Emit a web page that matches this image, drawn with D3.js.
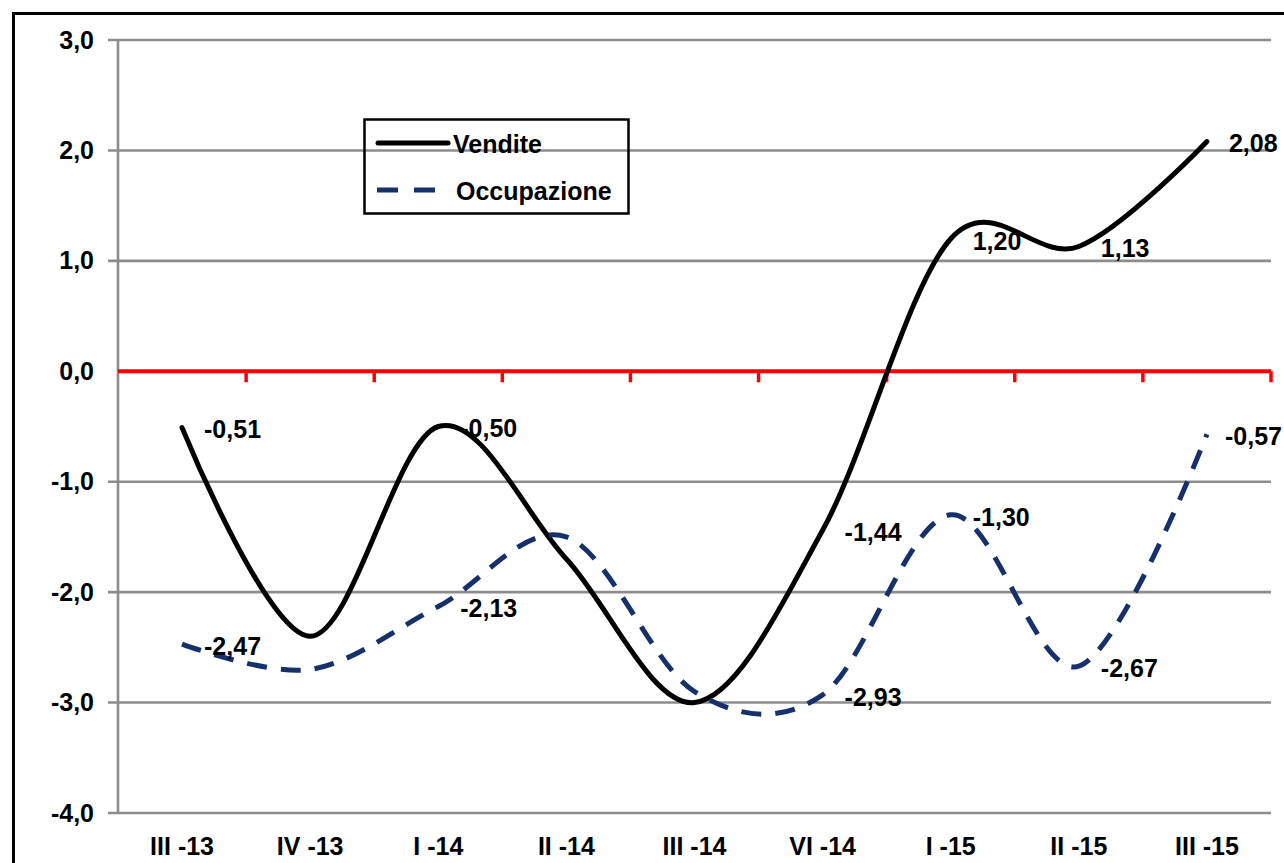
<!DOCTYPE html>
<html>
<head>
<meta charset="utf-8">
<script src="https://cdn.jsdelivr.net/npm/d3@7"></script>
<style>
  html, body { margin: 0; padding: 0; background: #fff; overflow: hidden; }
  svg { display: block; }
  text { font-family: "Liberation Sans", Arial, sans-serif; font-weight: bold; fill: #000; }
</style>
</head>
<body>
<svg id="chart" width="1284" height="863"></svg>
<script>
// ---- data ----
const categories = ["III -13", "IV -13", "I -14", "II -14", "III -14", "VI -14", "I -15", "II -15", "III -15"];
const vendite = [-0.51, -2.40, -0.50, -1.70, -3.00, -1.44, 1.20, 1.13, 2.08];
const occupazione = [-2.47, -2.70, -2.13, -1.50, -2.90, -2.93, -1.30, -2.67, -0.57];
const labelledIdx = [0, 2, 5, 6, 7, 8];
const yTicks = [3, 2, 1, 0, -1, -2, -3, -4];
const seriesNames = ["Vendite", "Occupazione"];

// ---- layout ----
const W = 1284;
const svg = d3.select("#chart");
const mLeft = 118, mRight = 1271, mTop = 40, mBottom = 813;
const x = d3.scaleBand().domain(categories).range([mLeft, mRight]).padding(0);
const y = d3.scaleLinear().domain([-4, 3]).range([mBottom, mTop]);
const fmt = v => d3.format(".2f")(v).replace(".", ",").replace("\u2212", "-");
const fmtTick = v => d3.format(".1f")(v).replace(".", ",").replace("\u2212", "-");

// outer frame
svg.append("rect").attr("x", 13.5).attr("y", 13.5).attr("width", 1400).attr("height", 1000)
  .attr("fill", "none").attr("stroke", "#000").attr("stroke-width", 3);

// y axis labels
const yAxis = d3.axisLeft(y).tickValues(yTicks).tickFormat(fmtTick).tickSize(0).tickPadding(24);
const gy = svg.append("g").attr("transform", `translate(${mLeft},0)`).call(yAxis);
gy.select(".domain").remove();
gy.selectAll(".tick text").attr("font-size", 25).attr("font-family", "Liberation Sans, Arial, sans-serif")
  .attr("font-weight", "bold").attr("fill", "#000");

// gridlines
svg.append("g").selectAll("line").data(yTicks.filter(d => d !== 0)).join("line")
  .attr("x1", mLeft - 10).attr("x2", mRight)
  .attr("y1", d => y(d)).attr("y2", d => y(d))
  .attr("stroke", "#8c8c8c").attr("stroke-width", 2.6);

// vertical axis line
svg.append("line").attr("x1", mLeft).attr("x2", mLeft).attr("y1", y(3)).attr("y2", y(-4))
  .attr("stroke", "#8c8c8c").attr("stroke-width", 2.6);

// zero line (red) with ticks
svg.append("line").attr("x1", mLeft).attr("x2", mRight).attr("y1", y(0)).attr("y2", y(0))
  .attr("stroke", "#ff0000").attr("stroke-width", 4);
const boundaries = categories.map(c => x(c) + x.bandwidth());
svg.append("g").selectAll("line").data(boundaries).join("line")
  .attr("x1", d => d).attr("x2", d => d)
  .attr("y1", y(0)).attr("y2", y(0) + 11)
  .attr("stroke", "#ff0000").attr("stroke-width", 3.5);

// category labels at bottom
const gxb = svg.append("g").attr("transform", `translate(0,${mBottom})`)
  .call(d3.axisBottom(x).tickSize(0).tickPadding(24));
gxb.select(".domain").remove();
gxb.selectAll(".tick text").attr("font-size", 25).attr("font-family", "Liberation Sans, Arial, sans-serif")
  .attr("font-weight", "bold").attr("fill", "#000");

// lines
const cx = i => x(categories[i]) + x.bandwidth() / 2;
const line = d3.line().x((d, i) => cx(i)).y(d => y(d)).curve(d3.curveCardinal.tension(0));

svg.append("path").datum(vendite).attr("d", line)
  .attr("fill", "none").attr("stroke", "#000").attr("stroke-width", 5).attr("stroke-linecap", "round");
svg.append("path").datum(occupazione).attr("d", line)
  .attr("fill", "none").attr("stroke", "#16306c").attr("stroke-width", 5)
  .attr("stroke-dasharray", "20,14");

// data labels (kept inside the picture)
[vendite, occupazione].forEach(series => {
  svg.append("g").selectAll("text").data(labelledIdx).join("text")
    .attr("y", i => y(series[i]) + 2)
    .attr("dy", "0.35em")
    .attr("font-size", 25)
    .text(i => fmt(series[i]))
    .attr("x", function(i) {
      const w = this.getComputedTextLength();
      return Math.min(cx(i) + 22, W - w - 2);
    });
});

// legend
const lg = svg.append("g");
lg.append("rect").attr("x", 364.5).attr("y", 119.5).attr("width", 264).attr("height", 94)
  .attr("fill", "none").attr("stroke", "#000").attr("stroke-width", 2.5);
lg.append("line").attr("x1", 378).attr("x2", 448).attr("y1", 143).attr("y2", 143)
  .attr("stroke", "#000").attr("stroke-width", 5).attr("stroke-linecap", "round");
lg.append("line").attr("x1", 377).attr("x2", 437).attr("y1", 190).attr("y2", 190)
  .attr("stroke", "#16306c").attr("stroke-width", 5).attr("stroke-dasharray", "21,16");
lg.append("text").attr("x", 453).attr("y", 144).attr("dy", "0.35em").attr("font-size", 25).text(seriesNames[0]);
lg.append("text").attr("x", 456).attr("y", 191).attr("dy", "0.35em").attr("font-size", 25).text(seriesNames[1]);
</script>
</body>
</html>
